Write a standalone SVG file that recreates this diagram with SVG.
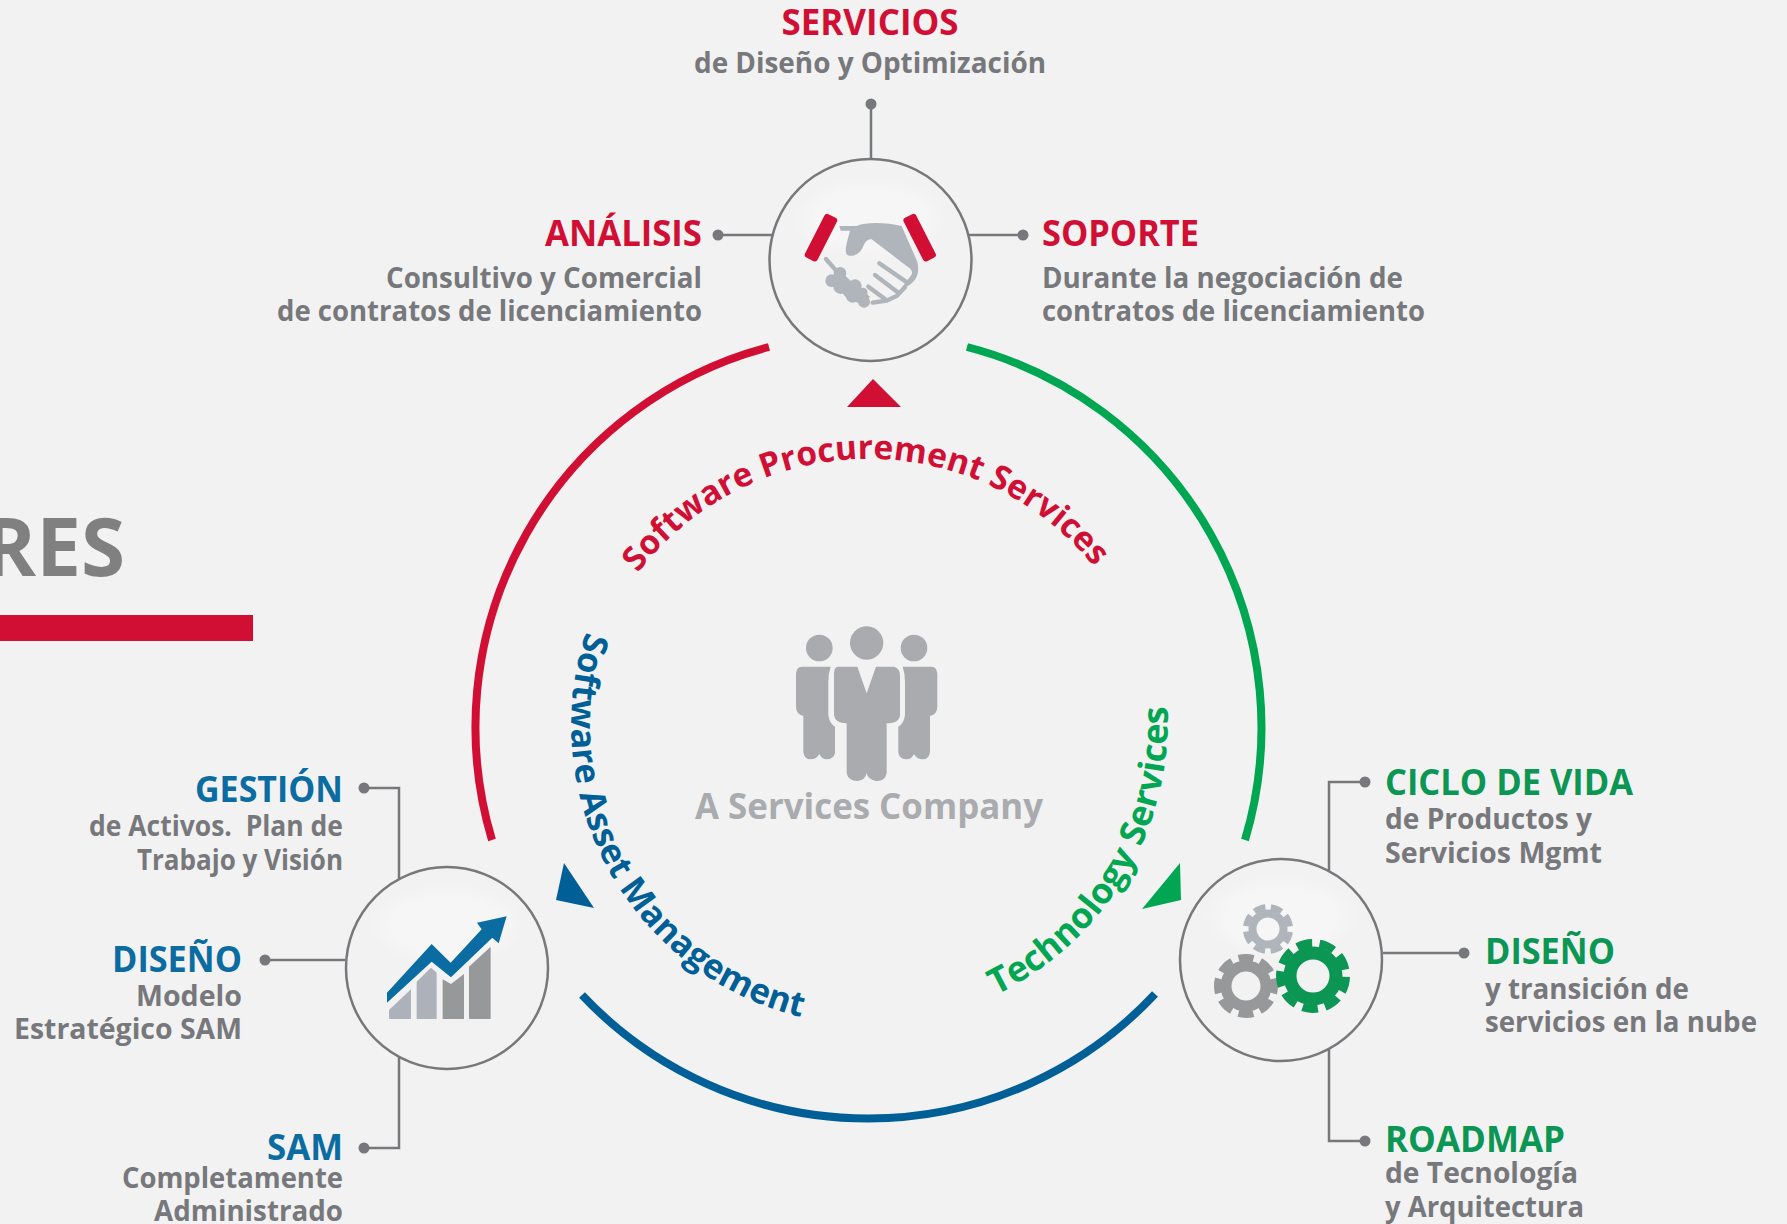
<svg xmlns="http://www.w3.org/2000/svg" width="1787" height="1224" viewBox="0 0 1787 1224">
<style>
text{font-family:"Open Sans","Noto Sans","Liberation Sans",sans-serif;font-weight:700}
.h{font-size:35px}.s{font-size:28px;fill:#77787b}
.r{fill:#d10f35}.b{fill:#0a6ca1}.g{fill:#0b9654}
.e{text-anchor:end}.m{text-anchor:middle}
.ring{fill:none;stroke-width:8}
.c{fill:none;stroke:#77787b;stroke-width:2.5}
.d{fill:#77787b}
.o{fill:#f2f2f2;stroke:#77787b;stroke-width:2.5}
</style>
<defs>
<radialGradient id="gl" cx="50%" cy="50%" r="50%"><stop offset="0" stop-color="#f6f6f6"/><stop offset=".7" stop-color="#f6f6f6"/><stop offset="1" stop-color="#f6f6f6" stop-opacity="0"/></radialGradient>
<path id="pR" d="M638,573 A290,290 0 0 1 1140,647"/>
<path id="pB" d="M586,632 A300,300 0 0 0 860,1025"/>
<path id="pG" d="M996,995 A304,304 0 0 0 1165,680"/>
</defs>
<rect width="1787" height="1224" fill="#f2f2f2"/>
<g id="title"><text x="125" y="576" class="e" style="font-size:80px;fill:#808080">RES</text><rect x="0" y="615" width="253" height="26" fill="#d10f35"/></g>
<g id="connectors">
<path class="ring" stroke="#d10f35" d="M492,840 A393,393 0 0 1 769,347"/>
<path class="ring" stroke="#00a651" d="M967,347 A393,393 0 0 1 1245,840"/>
<path class="ring" stroke="#005f97" d="M582,995 A393,393 0 0 0 1155,994"/>
<polygon fill="#d10f35" points="873,379 847,407 901,407"/>
<polygon fill="#005f97" points="564,863 556,900 594,908"/>
<polygon fill="#00a651" points="1180,863 1181,900 1142,909"/>
<path class="c" d="M871,104V160"/><circle class="d" cx="871" cy="104" r="5.500"/>
<path class="c" d="M718,235H772"/><circle class="d" cx="718" cy="235" r="5.500"/>
<path class="c" d="M969,235H1023"/><circle class="d" cx="1023" cy="235" r="5.500"/>
<path class="c" d="M364,788H399V880"/><circle class="d" cx="364" cy="788" r="5.500"/>
<path class="c" d="M265,960H345"/><circle class="d" cx="265" cy="960" r="5.500"/>
<path class="c" d="M364,1148H399V1055"/><circle class="d" cx="364" cy="1148" r="5.500"/>
<path class="c" d="M1365,782H1329V872"/><circle class="d" cx="1365" cy="782" r="5.500"/>
<path class="c" d="M1383,953H1464"/><circle class="d" cx="1464" cy="953" r="5.500"/>
<path class="c" d="M1365,1141H1329V1048"/><circle class="d" cx="1365" cy="1141" r="5.500"/>
</g>
<g id="node-procurement">
<circle class="o" cx="870.500" cy="260" r="101"/>
<ellipse cx="870.500" cy="218" rx="78" ry="42" fill="url(#gl)"/>
<g transform="translate(720 140) scale(.3333)">
<g fill="#d10f35"><rect x="-21" y="-73" width="42" height="146" rx="9" transform="translate(303 293) rotate(27)"/><rect x="-21" y="-73" width="42" height="146" rx="9" transform="translate(599 293) rotate(-27)"/></g>
<g fill="#b0b4bb">
<path d="M358,258L410,258C440,245 500,248 545,258L592,365C600,400 590,425 560,440L540,450L570,410C585,395 570,385 560,378L455,298C445,295 435,305 430,318C420,345 395,352 382,345C372,335 380,310 390,272L362,272Z"/>
<path d="M330,415L360,392L395,425L450,470L430,495L380,475Z"/>
<circle cx="335" cy="422" r="19"/><circle cx="360" cy="400" r="19"/><circle cx="362" cy="440" r="22"/><circle cx="398" cy="468" r="20"/><circle cx="432" cy="485" r="18"/><circle cx="405" cy="438" r="20"/><circle cx="428" cy="458" r="15"/>
<path d="M478,370L562,428M465,405L535,458M445,440L495,477M458,488L500,482L530,468L555,442M318,357L345,388" fill="none" stroke="#b0b4bb" stroke-width="13" stroke-linecap="round"/>
</g></g>
</g>
<g id="node-sam">
<circle class="o" cx="447" cy="968" r="101"/>
<ellipse cx="447" cy="925" rx="78" ry="42" fill="url(#gl)"/>
<g transform="translate(330 840) scale(.3333)">
<polygon fill="#adb1b9" points="177,537 177,510 243,448 243,537"/>
<polygon fill="#adb1b9" points="260,537 260,425 303,383 320,398 320,537"/>
<polygon fill="#97989a" points="338,537 338,418 363,432 402,402 402,537"/>
<polygon fill="#97989a" points="417,537 417,380 482,320 482,537"/>
<polygon fill="#0a6ca1" points="171,458 305,312 362,368 455,268 441,248 530,229 506,310 487,293 363,412 305,365 171,488"/>
</g>
</g>
<g id="node-tech">
<circle class="o" cx="1281" cy="960" r="101"/>
<ellipse cx="1281" cy="917" rx="78" ry="42" fill="url(#gl)"/>
<g fill="none">
<g stroke="#b0b4bb"><circle cx="1268" cy="929" r="15.500" stroke-width="8"/><circle cx="1268" cy="929" r="22" stroke-width="6" pathLength="16" stroke-dasharray="1.350 .650" transform="rotate(7.500 1268 929)"/></g>
<g stroke="#97989a"><circle cx="1246" cy="986" r="20" stroke-width="11"/><circle cx="1246" cy="986" r="28.500" stroke-width="7" pathLength="16" stroke-dasharray="1.350 .650" transform="rotate(-15 1246 986)"/></g>
<g stroke="#0b9654"><circle cx="1313" cy="976" r="23" stroke-width="13"/><circle cx="1313" cy="976" r="33" stroke-width="8" pathLength="18" stroke-dasharray="1.350 .650" transform="rotate(1.500 1313 976)"/></g>
</g>
</g>
<g id="center">
<g transform="translate(770 610) scale(.3333)" fill="#a9abae">
<circle cx="290" cy="99" r="50"/><circle cx="148" cy="114" r="40"/><circle cx="432" cy="114" r="40"/>
<path d="M205,170L262,170L290,250L318,170L372,170Q390,175 390,195L390,315Q388,340 350,340L350,490Q345,515 318,513Q295,510 290,490Q285,512 262,513Q235,513 230,490L230,340Q195,340 192,315L192,190Q192,170 205,170Z"/>
<path id="side" d="M95,170L182,170Q175,190 175,215L175,315Q178,340 195,350L195,430Q190,448 170,448Q155,448 148,432Q140,448 122,448Q102,448 100,425L100,318Q78,312 78,290L78,190Q80,170 95,170Z"/>
<use href="#side" transform="translate(580 0) scale(-1 1)"/>
</g>
<text x="869" y="819" class="m" style="font-size:35px;fill:#a9abae" textLength="348" lengthAdjust="spacingAndGlyphs">A Services Company</text>
</g>
<g id="labels-curved">
<text style="font-size:33.500px" fill="#d10f35"><textPath href="#pR">Software Procurement Services</textPath></text>
<text style="font-size:34.500px" fill="#005f97"><textPath href="#pB">Software Asset Management</textPath></text>
<text style="font-size:35.500px" fill="#00a651"><textPath href="#pG">Technology Services</textPath></text>
</g>
<g id="labels-top">
<text x="870" y="35" class="h r m" textLength="177" lengthAdjust="spacingAndGlyphs">SERVICIOS</text>
<text x="870" y="73" class="s m" textLength="352" lengthAdjust="spacingAndGlyphs">de Diseño y Optimización</text>
<text x="702" y="246" class="h r e" textLength="157" lengthAdjust="spacingAndGlyphs">ANÁLISIS</text>
<text x="702" y="288" class="s e" textLength="316" lengthAdjust="spacingAndGlyphs">Consultivo y Comercial</text>
<text x="702" y="321" class="s e" textLength="425" lengthAdjust="spacingAndGlyphs">de contratos de licenciamiento</text>
<text x="1042" y="246" class="h r" textLength="157" lengthAdjust="spacingAndGlyphs">SOPORTE</text>
<text x="1042" y="288" class="s" textLength="361" lengthAdjust="spacingAndGlyphs">Durante la negociación de</text>
<text x="1042" y="321" class="s" textLength="383" lengthAdjust="spacingAndGlyphs">contratos de licenciamiento</text>
</g>
<g id="labels-left">
<text x="343" y="802" class="h b e" textLength="148" lengthAdjust="spacingAndGlyphs">GESTIÓN</text>
<text x="343" y="836" class="s e" xml:space="preserve" textLength="254" lengthAdjust="spacingAndGlyphs">de Activos.  Plan de</text>
<text x="343" y="870" class="s e" textLength="206" lengthAdjust="spacingAndGlyphs">Trabajo y Visión</text>
<text x="242" y="972" class="h b e" textLength="130" lengthAdjust="spacingAndGlyphs">DISEÑO</text>
<text x="242" y="1006" class="s e" textLength="106" lengthAdjust="spacingAndGlyphs">Modelo</text>
<text x="242" y="1039" class="s e" textLength="228" lengthAdjust="spacingAndGlyphs">Estratégico SAM</text>
<text x="343" y="1160" class="h b e" textLength="76" lengthAdjust="spacingAndGlyphs">SAM</text>
<text x="343" y="1188" class="s e" textLength="221" lengthAdjust="spacingAndGlyphs">Completamente</text>
<text x="343" y="1221" class="s e" textLength="189" lengthAdjust="spacingAndGlyphs">Administrado</text>
</g>
<g id="labels-right">
<text x="1385" y="795" class="h g" textLength="248" lengthAdjust="spacingAndGlyphs">CICLO DE VIDA</text>
<text x="1385" y="829" class="s" textLength="207" lengthAdjust="spacingAndGlyphs">de Productos y</text>
<text x="1385" y="863" class="s" textLength="217" lengthAdjust="spacingAndGlyphs">Servicios Mgmt</text>
<text x="1485" y="964" class="h g" textLength="130" lengthAdjust="spacingAndGlyphs">DISEÑO</text>
<text x="1485" y="999" class="s" textLength="204" lengthAdjust="spacingAndGlyphs">y transición de</text>
<text x="1485" y="1032" class="s" textLength="272" lengthAdjust="spacingAndGlyphs">servicios en la nube</text>
<text x="1385" y="1152" class="h g" textLength="180" lengthAdjust="spacingAndGlyphs">ROADMAP</text>
<text x="1385" y="1183" class="s" textLength="193" lengthAdjust="spacingAndGlyphs">de Tecnología</text>
<text x="1385" y="1217" class="s" textLength="199" lengthAdjust="spacingAndGlyphs">y Arquitectura</text>
</g>
</svg>
